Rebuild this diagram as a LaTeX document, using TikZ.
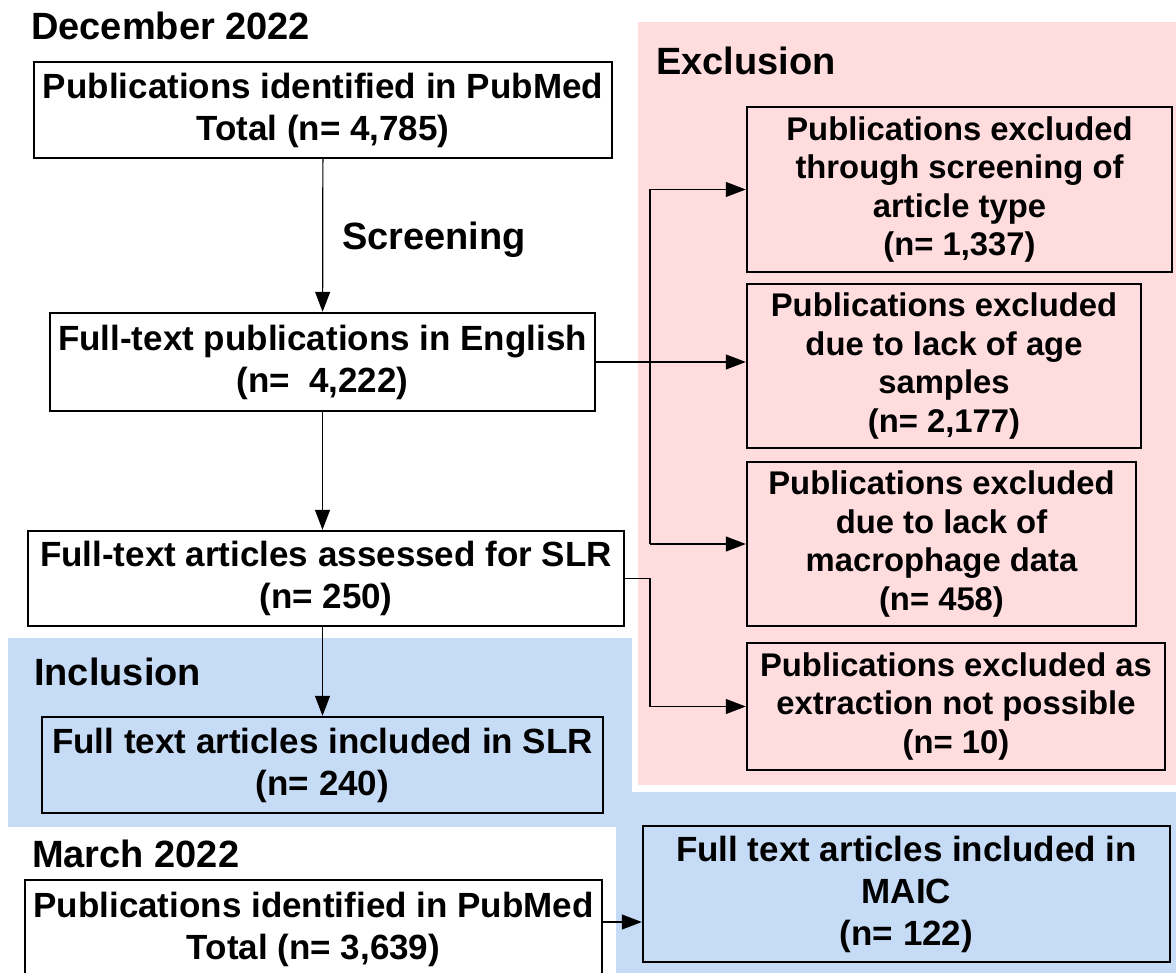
\documentclass[tikz,border=0pt]{standalone}
\usepackage{fontspec}
\setmainfont{Liberation Sans}
\usetikzlibrary{arrows.meta}
\tikzset{>={Triangle[length=20pt,width=15pt]}}
\definecolor{clp}{RGB}{255,221,222}
\definecolor{clb}{RGB}{198,220,246}
\newcommand*{\fhd}{\fontsize{38}{45}\selectfont\bfseries}
\newcommand*{\fbx}{\fontsize{35}{42}\selectfont\bfseries}
\newcommand*{\fex}{\fontsize{32.8}{38.5}\selectfont\bfseries}
\tikzset{bx/.style={draw, line width=2.4pt, align=center, inner sep=0pt, font=\fbx},
    ex/.style={bx, font=\fex},
    hd/.style={anchor=base west, inner sep=0pt, font=\fhd},
    ln/.style={line width=1.2pt}}

\begin{document}
\begin{tikzpicture}[x=1pt, y=-1pt]
    \useasboundingbox(0,0) rectangle (1176,973);
    \fill[clb](8,638) rectangle (632,827);          %inclusion
    \fill[clb](616,792) rectangle (1176,973);       %maic
    \fill[clp](638,22) rectangle (1176,785);        %exclusion
    \node[hd](dec) at(31,40){December 2022};
    \node[hd](scr) at(342,250){Screening};
    \node[hd](exl) at(656,75){Exclusion};
    \node[hd](inl) at(34,685){Inclusion};
    \node[hd](mch) at(32,867){March 2022};
    \node[bx, fill=white, minimum width=578, minimum height=96](pub) at(323,110){Publications identified in PubMed\\Total (n= 4,785)};
    \node[bx, fill=white, minimum width=545, minimum height=98](eng) at(322.5,362){Full-text publications in English\\(n=\ \ 4,222)};
    \node[bx, fill=white, minimum width=596, minimum height=95](slr) at(326,578.5){Full-text articles assessed for SLR\\(n= 250)};
    \node[bx, minimum width=561, minimum height=96](inc) at(322.5,765){Full text articles included in SLR\\(n= 240)};
    \node[bx, fill=white, minimum width=577, minimum height=98](mar) at(313.5,929){Publications identified in PubMed\\Total (n= 3,639)};
    \node[bx, minimum width=527, minimum height=136](mai) at(906.5,894){Full text articles included in\\MAIC\\(n= 122)};
    \node[ex, minimum width=425, minimum height=165](exa) at(959.5,189.5){Publications excluded\\through screening of\\article type\\(n= 1,337)};
    \node[ex, minimum width=394, minimum height=164](exb) at(944,366){Publications excluded\\due to lack of age\\samples\\(n= 2,177)};
    \node[ex, minimum width=389, minimum height=164](exc) at(941.5,544){Publications excluded\\due to lack of\\macrophage data\\(n= 458)};
    \node[ex, minimum width=418, minimum height=127](exd) at(956,706.5){Publications excluded as\\extraction not possible\\(n= 10)};
    \coordinate(jn) at(650,364);
    \draw[ln, ->](pub) -- (eng);
    \draw[ln, ->](eng.south) -- (eng.south |- slr.north);
    \draw[ln, ->](inc.north |- slr.south) -- (inc.north);
    \draw[ln, ->](eng.east) -- (eng.east -| exb.west);
    \draw[ln](jn |- exa.west) -- (jn |- exc.west);
    \draw[ln, ->](jn |- exa.west) -- (exa.west);
    \draw[ln, ->](jn |- exc.west) -- (exc.west);
    \draw[ln, ->](slr.east) -- (jn |- slr.east) -- (jn |- exd.west) -- (exd.west);
    \draw[ln, ->]([yshift=7pt]mar.east) -- ([yshift=7pt]mar.east -| mai.west);
\end{tikzpicture}
\end{document}
